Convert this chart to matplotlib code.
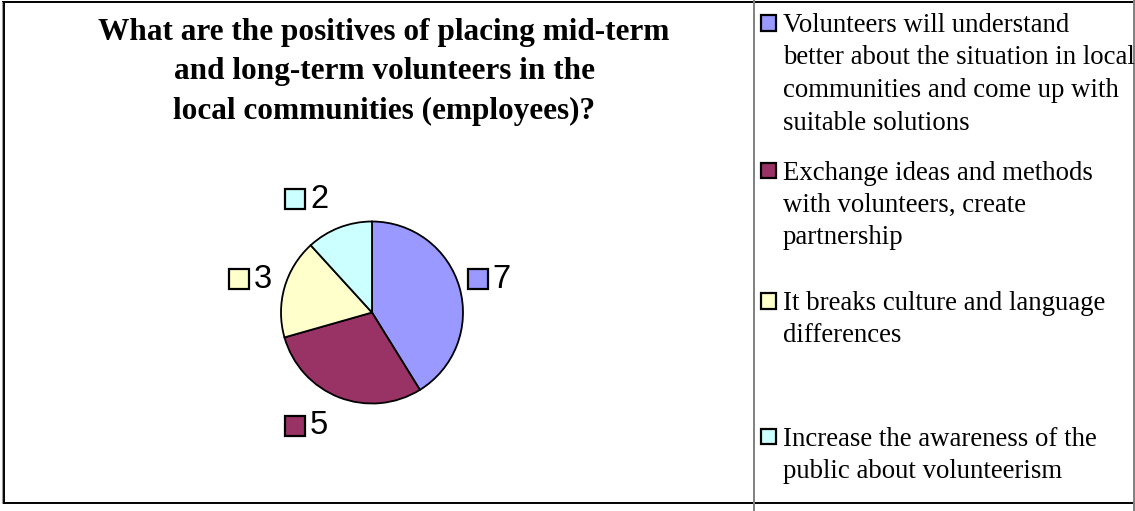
import matplotlib
matplotlib.use("Agg")
import matplotlib.pyplot as plt

# survey answers (number of employees per answer)
answers = [
    "Volunteers will understand\nbetter about the situation in local\ncommunities and come up with\nsuitable solutions",
    "Exchange ideas and methods\nwith volunteers, create\npartnership",
    "It breaks culture and language\ndifferences",
    "Increase the awareness of the\npublic about volunteerism",
]
counts = [7, 5, 3, 2]
colors = ["#9999FF", "#993366", "#FFFFCC", "#CCFFFF"]
title_lines = [
    "What are the positives of placing mid-term",
    "and long-term volunteers in the",
    "local communities (employees)?",
]

W, H = 1135, 511
fig = plt.figure(figsize=(W / 100, H / 100), dpi=100)

# background axes in pixel units for frame, title and legend
bg = fig.add_axes([0, 0, 1, 1])
bg.set_xlim(0, W)
bg.set_ylim(H, 0)
bg.axis("off")

# frame
bg.plot([3, 1133], [2.5, 2.5], color="black", lw=1.4)
bg.plot([3, 1133], [503, 503], color="black", lw=1.4)
bg.plot([4, 4], [2.5, 503], color="black", lw=1.4)
bg.plot([2.2, 2.2], [2.5, 503], color="#999999", lw=0.8)
bg.plot([753.5, 753.5], [0, H], color="#808080", lw=1.4)
bg.plot([1133.5, 1133.5], [0, H], color="#808080", lw=1.4)

serif = ["Liberation Serif", "DejaVu Serif"]
sans = ["Liberation Sans", "DejaVu Sans"]

# title, one baseline per line
for i, line in enumerate(title_lines):
    bg.text(384, 40 + i * 39.5, line, ha="center", va="baseline",
            fontsize=22.5, fontweight="bold", family=serif)

# legend on the right
entry_y = [32, 179.5, 310, 445.5]
for txt, col, y0 in zip(answers, colors, entry_y):
    bg.add_patch(plt.Rectangle((761, y0 - 16.5), 15, 15.5, facecolor=col,
                               edgecolor="black", lw=1.6))
    for j, line in enumerate(txt.split("\n")):
        bg.text(783, y0 + j * 32.5, line, ha="left", va="baseline",
                fontsize=19.3, family=serif)

# pie, centre (372, 312.5), radius 91 px
cx, cy, r = 372, 312.5, 91
ax = fig.add_axes([(cx - r) / W, (H - cy - r) / H, 2 * r / W, 2 * r / H])
ax.pie(counts, colors=colors, startangle=90, counterclock=False,
       wedgeprops=dict(edgecolor="black", linewidth=1.3))
ax.set_xlim(-1, 1)
ax.set_ylim(-1, 1)
ax.set_aspect("equal")
ax.axis("off")

# value labels: square key + number
label_pos = [(1.165, 0.363), (-0.846, -1.242), (-1.462, 0.363), (-0.841, 1.242)]
for n, col, (lx, ly) in zip(counts, colors, label_pos):
    ax.plot([lx], [ly], marker="s", ms=14, mfc=col, mec="black", mew=1.6,
            clip_on=False)
    ax.annotate(str(n), (lx, ly), xytext=(10.5, 0), textcoords="offset points",
                ha="left", va="center", fontsize=23.5, family=sans,
                annotation_clip=False)

fig.savefig("out.png", dpi=100)
